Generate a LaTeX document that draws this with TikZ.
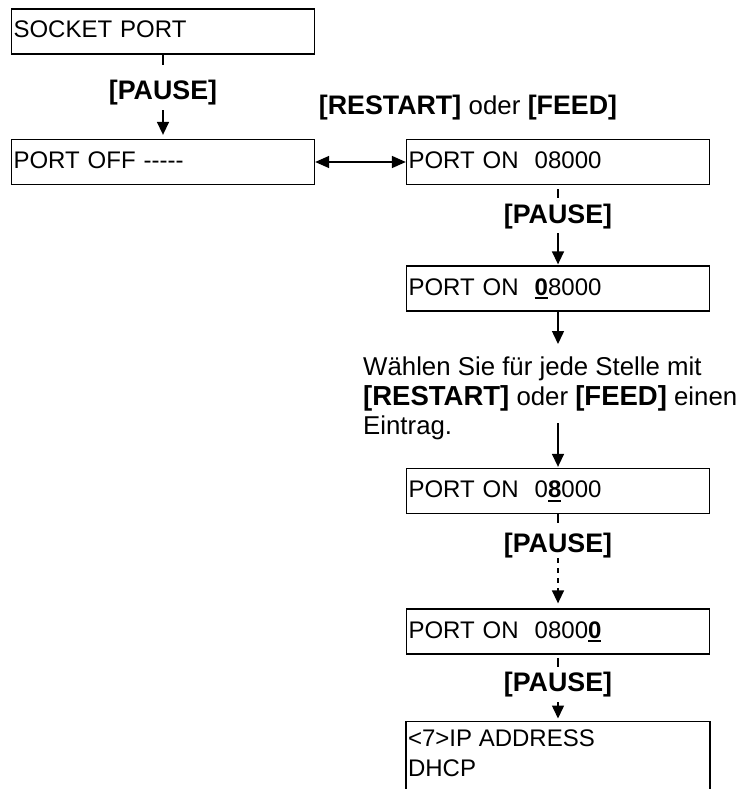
\documentclass[tikz,border=0pt]{standalone}
\usepackage{fontspec}
\setmainfont{Liberation Sans}
\usetikzlibrary{arrows.meta}
\newcommand{\udig}[1]{\textbf{#1}\llap{\rule[-4pt]{0.556em}{2pt}}}
\newcommand{\bk}[1]{{\fontsize{27.5}{29.5}\selectfont\bfseries #1}}
\begin{document}
\begin{tikzpicture}[x=1pt,y=-1pt,
  box/.style={draw, line width=1.3pt, text width=299pt, inner xsep=2pt, inner ysep=0pt,
    minimum height=45pt, align=left, text height=18pt, text depth=5pt,
    font=\fontsize{24}{30}\selectfont},
  key/.style={inner sep=0pt, text height=19pt, text depth=5.5pt,
    font=\fontsize{26.8}{30}\selectfont\bfseries},
  conn/.style={line width=1.5pt},
  arr/.style={conn, -{Triangle[width=12pt,length=13pt]}},
  darr/.style={conn, {Triangle[width=12pt,length=14pt]}-{Triangle[width=12pt,length=14pt]}}]
\useasboundingbox (0,0) rectangle (746,789);
\clip (0,0) rectangle (746,789);

% boxes
\node[box] (b1) at (163,31.5) {SOCKET PORT};
\node[box] (b2) at (163,162) {PORT OFF -{}-{}-{}-{}-};
\node[box] (pon) at (558,162) {PORT ON\ \ 08000};
\node[box] (pon0) at (558,288.5) {PORT ON\ \ \udig{0}8000};
\node[box] (pon8) at (558,491) {PORT ON\ \ 0\udig{8}000};
\node[box] (pon00) at (558,631.5) {PORT ON\ \ 0800\udig{0}};
\node[draw, line width=1.3pt, minimum width=304pt, minimum height=120pt,
  inner sep=0pt, anchor=north] (ipbox) at (558,721) {};
\node[anchor=north west, inner sep=0pt, align=left,
  font=\fontsize{24}{30}\selectfont] (ip) at ([shift={(2.5,9)}]ipbox.north west)
  {<7>IP ADDRESS\\DHCP};

% key labels
\node[key] (p1) at (163,93) {[PAUSE]};
\node[key] (rf) at (468,108) {[RESTART] {\fontsize{25.8}{30}\selectfont\mdseries oder} [FEED]};
\node[key] (p2) at (558,216.5) {[PAUSE]};
\node[key] (p3) at (558,546) {[PAUSE]};
\node[key] (p4) at (558,685) {[PAUSE]};

% free text
\node[anchor=north west, inner sep=0pt, align=left,
  font=\fontsize{25.8}{29.5}\selectfont] (wahl) at (363,357)
  {Wählen Sie für jede Stelle mit\\\bk{[RESTART]} oder \bk{[FEED]} einen\\Eintrag.};
\coordinate (w2) at (558,423);

% connectors
\draw[conn, shorten >=15.75pt] (b1) -- (p1);
\draw[arr, shorten <=4.75pt, shorten >=4pt] (p1) -- (b2);
\draw[darr] (b2.east) -- (pon.west);
\draw[conn, shorten <=4pt, shorten >=6pt] (pon) -- (p2);
\draw[arr, shorten <=4.5pt, shorten >=1pt] (p2) -- (pon0);
\draw[arr, shorten >=13pt] (pon0) -- (pon0 |- wahl.north);
\draw[arr, shorten >=1pt] (w2) -- (pon8);
\draw[conn, shorten >=11pt] (pon8) -- (p3);
\draw[arr, dash pattern=on 5pt off 5pt, shorten >=5pt] (p3) -- (pon00);
\draw[conn, shorten <=3.5pt, shorten >=6pt] (pon00) -- (p4);
\draw[arr, shorten <=4.75pt, shorten >=2.5pt] (p4) -- (ipbox);
\end{tikzpicture}
\end{document}
